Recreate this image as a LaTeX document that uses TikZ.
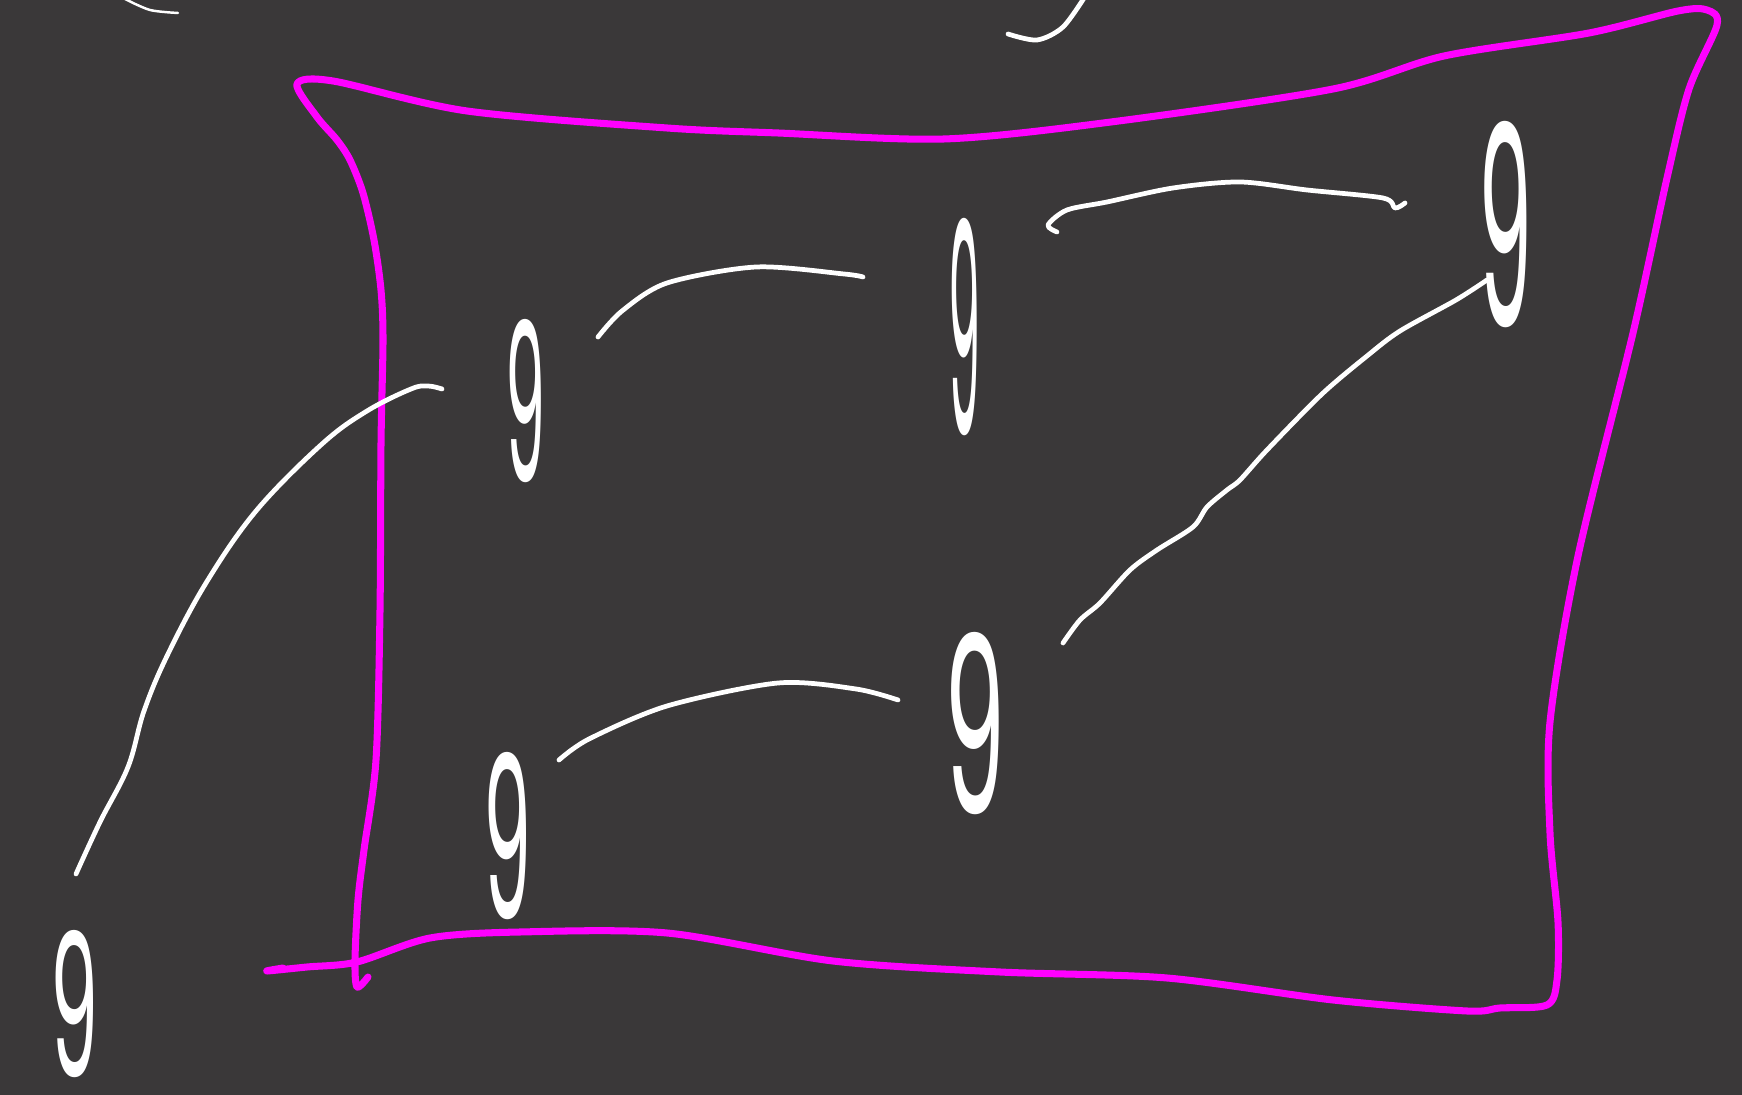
\documentclass[tikz,border=0pt]{standalone}
\usepackage{graphicx}
\usepackage{fontspec}
\newfontfamily\ninefont{Poppins}
\definecolor{bg}{RGB}{58,56,57}
\definecolor{mag}{RGB}{255,0,255}
\newcommand{\ninedigit}[2]{\resizebox{#1}{#2}{\ninefont 9}}
\begin{document}
\begin{tikzpicture}[x=0.01cm,y=0.01cm,
  wline/.style={draw=white,line width=1.35pt,line cap=round,line join=round},
  thinw/.style={draw=white,line width=0.7pt,line cap=round},
  mline/.style={draw=mag,line width=2pt,line cap=round,line join=round},
  digit/.style={text=white,inner sep=0pt,outer sep=0pt,anchor=south west}]
\fill[bg] (0,0) rectangle (1742,-1095);
\useasboundingbox (0,0) rectangle (1742,-1095);

% magenta boundary
\draw[mline] plot[smooth,tension=0.5] coordinates {(368,-977) (357,-987) (355,-960) (358,-900) (364,-850) (376,-760) (380,-611) (381,-444) (383,-340) (381,-290) (374,-240) (363,-193) (350,-160) (337,-140) (317,-117) (297,-84)
 (333,-81) (467,-111) (667,-128) (778,-133) (944,-139) (1111,-122) (1333,-89) (1444,-56) (1589,-33) (1678,-11) (1707,-10) (1717,-25) (1689,-89) (1667,-178) (1633,-333) (1578,-556) (1550,-722) (1550,-833) (1558,-922) (1557,-980) (1547,-1005) (1500,-1008) (1467,-1011) (1333,-1000) (1167,-978) (1000,-972) (833,-961) (667,-933) (520,-932) (430,-938) (357,-962) (307,-967) (267,-971) (283,-968)};

% fragments at top edge
\coordinate (f1a) at (125,1);
\coordinate (f1b) at (178,-13);
\draw[thinw] plot[smooth] coordinates {(f1a) (150,-10) (f1b)};
\coordinate (f2a) at (1008,-34);
\coordinate (f2b) at (1086,5);
\draw[wline] plot[smooth] coordinates {(f2a) (1037,-40) (1063,-27) (f2b)};

% digits
\node[digit] (n1) at (505,-483) {\ninedigit{0.40cm}{1.63cm}};
\node[digit] (n2) at (948,-436) {\ninedigit{0.32cm}{2.17cm}};
\node[digit] (n3) at (1478,-328) {\ninedigit{0.54cm}{2.06cm}};
\node[digit] (n4) at (944,-815) {\ninedigit{0.61cm}{1.82cm}};
\node[digit] (n5) at (483,-920) {\ninedigit{0.48cm}{1.67cm}};
\node[digit] (n6) at (50,-1078) {\ninedigit{0.48cm}{1.47cm}};

% connectors
\coordinate (a1) at (76,-874);
\coordinate (a2) at (442,-389);
\draw[wline] plot[smooth,tension=0.6] coordinates {(a1) (100,-822) (128,-767) (144,-711) (167,-656) (206,-583) (256,-511) (322,-444) (367,-411) (411,-389) (428,-386) (a2)};

\coordinate (b1) at (598,-337);
\coordinate (b2) at (863,-277);
\draw[wline] plot[smooth] coordinates {(b1) (622,-311) (667,-283) (756,-267) (844,-274) (b2)};

\coordinate (c1) at (1057,-232);
\coordinate (c2) at (1405,-203);
\draw[wline] plot[smooth,tension=0.5] coordinates {(c1) (1048,-225) (1067,-210) (1107,-202) (1173,-188) (1240,-182) (1307,-190) (1383,-198) (1395,-208) (c2)};

\coordinate (d1) at (1063,-643);
\coordinate (d2) at (1487,-280);
\draw[wline] plot[smooth,tension=0.5] coordinates {(d1) (1080,-620) (1100,-603) (1130,-570) (1157,-550) (1193,-527) (1207,-507) (1227,-490) (1240,-480) (1267,-450) (1322,-394) (1367,-356) (1400,-331) (1456,-300) (d2)};

\coordinate (e1) at (559,-760);
\coordinate (e2) at (898,-700);
\draw[wline] plot[smooth] coordinates {(e1) (589,-739) (667,-706) (778,-683) (856,-689) (e2)};
\end{tikzpicture}
\end{document}
